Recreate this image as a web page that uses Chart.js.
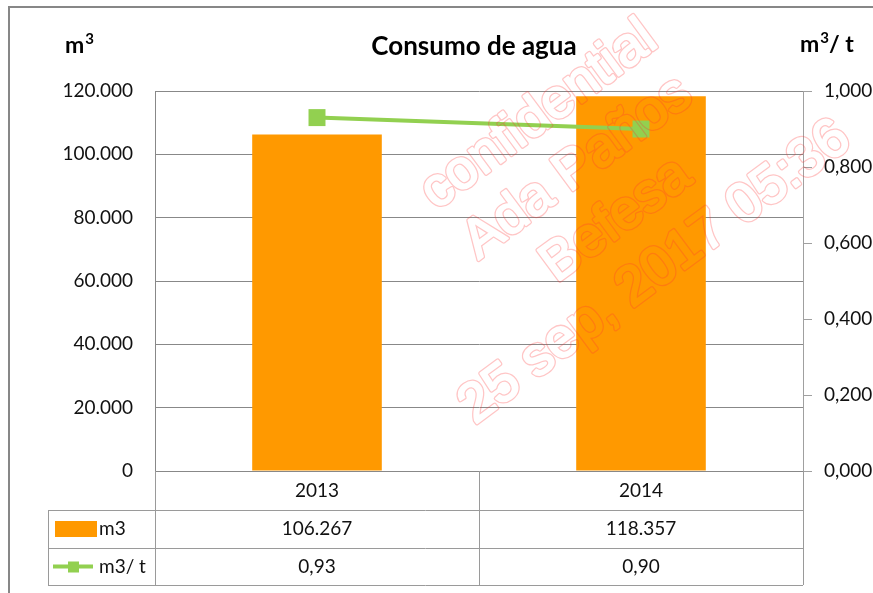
<!DOCTYPE html>
<html>
<head>
<meta charset="utf-8">
<script src="https://cdn.jsdelivr.net/npm/chart.js@4.4.0/dist/chart.umd.min.js"></script>
<style>
  body { margin: 0; background: #fff; }
  canvas { display: block; }
</style>
</head>
<body>
<canvas id="myChart" width="873" height="593"></canvas>
<script>
const years = ['2013', '2014'];
const consumoM3 = [106267, 118357];
const ratioM3t = [0.93, 0.90];
const consumoLabels = ['106.267', '118.357'];
const ratioLabels = ['0,93', '0,90'];
const watermark = ['confidential', 'Ada Paños', 'Befesa', '25 sep, 2017 05:36'];

const FONT = 'Lato, "Open Sans", sans-serif';
const GRID = '#888888';
const TABLE = '#9a9a9a';
const ORANGE = '#FF9900';
const GREEN = '#92D050';

const ctx = document.getElementById('myChart').getContext('2d');

const fmtThousands = v => String(v).replace(/\B(?=(\d{3})+(?!\d))/g, '.');

// "m" + raised "3" (+ optional suffix), left aligned at x
function unitLabel(c, x, y, suffix) {
  c.textAlign = 'left';
  c.font = 'bold 23px ' + FONT;
  c.fillText('m', x, y);
  let w = c.measureText('m').width;
  c.font = 'bold 15px ' + FONT;
  c.fillText('3', x + w + 1, y - 7);
  w += c.measureText('3').width + 1;
  if (suffix) {
    c.font = 'bold 23px ' + FONT;
    c.fillText(suffix, x + w, y);
  }
}

const framePlugin = {
  id: 'frame',
  afterDraw(chart) {
    const c = chart.ctx;
    const area = chart.chartArea;
    const x = chart.scales.x;
    const left = area.left, right = area.right, bottom = area.bottom;
    const mid = (x.getPixelForValue(0) + x.getPixelForValue(1)) / 2;
    const rows = [bottom, 510, 548, 585];
    const keyLeft = 48;

    c.save();
    // outer border
    c.strokeStyle = '#878787';
    c.lineWidth = 2;
    c.beginPath();
    c.moveTo(9, 593);
    c.lineTo(9, 7);
    c.lineTo(873, 7);
    c.stroke();

    // titles
    c.fillStyle = '#000';
    c.textBaseline = 'middle';
    c.textAlign = 'center';
    c.font = 'bold 26px ' + FONT;
    c.fillText('Consumo de agua', 474, 47);
    unitLabel(c, 65, 46, '');
    unitLabel(c, 800, 45, '/ t');

    // data table
    c.strokeStyle = TABLE;
    c.lineWidth = 1;
    c.beginPath();
    for (let i = 1; i < rows.length; i++) {
      c.moveTo(keyLeft, rows[i] + 0.5);
      c.lineTo(right, rows[i] + 0.5);
    }
    c.moveTo(keyLeft + 0.5, rows[1]);
    c.lineTo(keyLeft + 0.5, rows[3]);
    [left, mid, right].forEach(px => {
      c.moveTo(Math.round(px) + 0.5, rows[0]);
      c.lineTo(Math.round(px) + 0.5, rows[3]);
    });
    c.stroke();

    c.font = '19px ' + FONT;
    c.fillStyle = '#111';
    c.textAlign = 'center';
    years.forEach((y, i) => {
      const cx = x.getPixelForValue(i);
      c.fillText(y, cx, (rows[0] + rows[1]) / 2);
      c.fillText(consumoLabels[i], cx, (rows[1] + rows[2]) / 2);
      c.fillText(ratioLabels[i], cx, (rows[2] + rows[3]) / 2);
    });

    // legend keys
    const r1 = (rows[1] + rows[2]) / 2;
    const r2 = (rows[2] + rows[3]) / 2;
    c.fillStyle = ORANGE;
    c.fillRect(55, r1 - 8, 42, 16);
    c.strokeStyle = GREEN;
    c.lineWidth = 4;
    c.beginPath();
    c.moveTo(53, r2);
    c.lineTo(93, r2);
    c.stroke();
    c.fillStyle = GREEN;
    c.fillRect(68, r2 - 5, 11, 11);
    c.fillStyle = '#111';
    c.textAlign = 'left';
    c.fillText('m3', 99, r1);
    c.fillText('m3/ t', 99, r2);

    // watermark
    const off = document.createElement('canvas');
    off.width = chart.width;
    off.height = chart.height;
    const o = off.getContext('2d');
    o.translate(597, 194);
    o.rotate(-36.5 * Math.PI / 180);
    o.font = '55px "Liberation Sans", Arial, sans-serif';
    o.textAlign = 'center';
    o.textBaseline = 'middle';
    o.lineJoin = 'round';
    watermark.forEach((t, i) => {
      const ty = (i - 1.5) * 65;
      o.globalCompositeOperation = 'source-over';
      o.strokeStyle = 'rgba(255,50,50,1)';
      o.lineWidth = 4.5;
      o.strokeText(t, 0, ty);
      o.globalCompositeOperation = 'destination-out';
      o.lineWidth = 2;
      o.strokeText(t, 0, ty);
      o.fillText(t, 0, ty);
    });
    c.globalAlpha = 0.28;
    c.drawImage(off, 0, 0);
    c.restore();
  }
};

const config = {
  type: 'bar',
  data: {
    labels: years,
    datasets: [
      {
        type: 'line',
        label: 'm3/ t',
        data: ratioM3t,
        yAxisID: 'y1',
        borderColor: GREEN,
        backgroundColor: GREEN,
        borderWidth: 4,
        pointStyle: 'rect',
        pointRadius: 12,
        pointBorderWidth: 0,
        order: 0
      },
      {
        type: 'bar',
        label: 'm3',
        data: consumoM3,
        yAxisID: 'y',
        backgroundColor: ORANGE,
        categoryPercentage: 1,
        barPercentage: 0.4,
        order: 1
      }
    ]
  },
  options: {
    responsive: false,
    animation: false,
    layout: { padding: { top: 91, bottom: 122, left: 0, right: 0 } },
    plugins: {
      legend: { display: false },
      tooltip: { enabled: false },
      title: { display: false }
    },
    scales: {
      x: { display: false },
      y: {
        position: 'left',
        min: 0,
        max: 120000,
        afterFit: s => { s.width = 155; },
        ticks: {
          stepSize: 20000,
          padding: 22,
          color: '#111',
          font: { family: FONT, size: 19 },
          callback: v => fmtThousands(v)
        },
        grid: { color: GRID, drawTicks: false },
        border: { display: true, color: GRID }
      },
      y1: {
        position: 'right',
        min: 0,
        max: 1,
        afterFit: s => { s.width = 70; },
        ticks: {
          stepSize: 0.2,
          padding: 12,
          color: '#111',
          font: { family: FONT, size: 19 },
          callback: v => v.toFixed(3).replace('.', ',')
        },
        grid: { drawOnChartArea: false, color: '#a0a0a0', tickLength: 9 },
        border: { display: true, color: '#a0a0a0' }
      }
    }
  },
  plugins: [framePlugin]
};

const myChart = new Chart(ctx, config);
</script>
</body>
</html>
